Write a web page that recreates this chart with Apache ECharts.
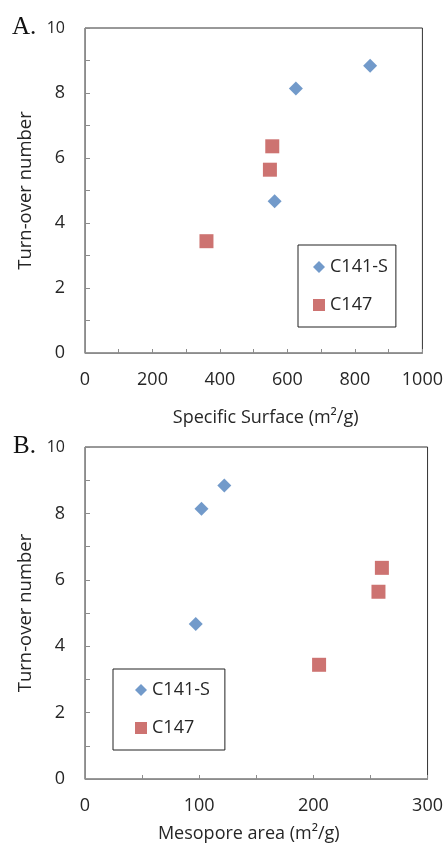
<!DOCTYPE html>
<html>
<head>
<meta charset="utf-8">
<script src="https://cdn.jsdelivr.net/npm/echarts@6/dist/echarts.min.js"></script>
<style>
html,body{margin:0;padding:0;background:#fff;}
#chart{width:446px;height:846px;}
</style>
</head>
<body>
<div id="chart"></div>
<script>
// Data
const seriesNames = ['C141-S', 'C147'];
const tonC141S = [8.84, 8.14, 4.67];
const tonC147 = [6.36, 5.64, 3.44];
const surfaceC141S = [845, 625, 562];
const surfaceC147 = [555, 548, 360];
const mesoC141S = [122, 102, 97];
const mesoC147 = [260, 257, 205];
const yTicks = [0, 2, 4, 6, 8, 10];
const xTicksA = [0, 200, 400, 600, 800, 1000];
const xTicksB = [0, 100, 200, 300];
const titleA = 'Specific Surface (m²/g)';
const titleB = 'Mesopore area (m²/g)';
const yTitle = 'Turn-over number';

const FONT = 'Open Sans';
const TXT = '#262626';
const AXIS = '#8c8c8c';
const BLUE = '#4f81bd';
const RED = '#c0504d';

function pairs(xs, ys) { return xs.map((x, i) => [x, ys[i]]); }

function yAxisCfg(gi) {
  return {
    type: 'value', gridIndex: gi, min: yTicks[0], max: yTicks[yTicks.length - 1],
    interval: yTicks[1] - yTicks[0],
    name: yTitle, nameLocation: 'middle', nameGap: 50,
    nameTextStyle: { fontFamily: FONT, fontSize: 18.5, color: TXT },
    axisLine: { show: true, lineStyle: { color: AXIS, width: 1 } },
    axisTick: { show: true, inside: true, length: 5, lineStyle: { color: AXIS } },
    minorTick: { show: true, splitNumber: 2, length: 5, lineStyle: { color: AXIS } },
    splitLine: { show: false },
    axisLabel: {
      margin: 20, fontFamily: FONT, fontSize: 18, color: TXT,
      formatter: v => v === 10 ? '{s|10}' : String(v),
      rich: { s: { fontFamily: FONT, fontSize: 16, lineHeight: 18, color: TXT } }
    }
  };
}

function xAxisCfg(gi, ticks, title, gap, pad) {
  return {
    type: 'value', gridIndex: gi, min: ticks[0], max: ticks[ticks.length - 1],
    interval: ticks[1] - ticks[0],
    name: title, nameLocation: 'middle', nameGap: gap,
    nameTextStyle: { fontFamily: FONT, fontSize: 18, color: TXT, padding: pad },
    axisLine: { show: true, lineStyle: { color: AXIS, width: 1 } },
    axisTick: { show: true, inside: true, length: 4, lineStyle: { color: AXIS } },
    minorTick: { show: true, splitNumber: 2, length: 4, lineStyle: { color: AXIS } },
    splitLine: { show: false },
    axisLabel: { margin: 18, fontFamily: FONT, fontSize: 18, color: TXT, formatter: v => String(v) }
  };
}

function legendCfg(left, top, padding) {
  return {
    orient: 'vertical', left: left, top: top,
    data: [{ name: seriesNames[0], icon: 'diamond' }, { name: seriesNames[1], icon: 'rect' }],
    itemWidth: 12, itemHeight: 12, itemGap: 18,
    padding: padding, borderColor: '#222', borderWidth: 1, backgroundColor: '#fff',
    textStyle: { fontFamily: FONT, fontSize: 18, color: TXT, lineHeight: 20 },
    selectedMode: false
  };
}

const chart = echarts.init(document.getElementById('chart'), null, { renderer: 'canvas' });
chart.setOption({
  animation: false,
  backgroundColor: '#fff',
  grid: [
    { left: 85, top: 28, right: 23, bottom: 493, show: true, borderColor: '#333', borderWidth: 1, backgroundColor: 'transparent' },
    { left: 85, top: 447, right: 18, bottom: 67, show: true, borderColor: '#333', borderWidth: 1, backgroundColor: 'transparent' }
  ],
  xAxis: [
    xAxisCfg(0, xTicksA, titleA, 56, [0, 0, 0, 24]),
    xAxisCfg(1, xTicksB, titleB, 46, [0, 15, 0, 0])
  ],
  yAxis: [yAxisCfg(0), yAxisCfg(1)],
  legend: [
    legendCfg(298, 245, [12, 8, 12, 15]),
    legendCfg(113, 669, [11, 15, 12, 22])
  ],
  graphic: [
    { type: 'text', left: 12, top: 15, style: { text: 'A.', font: '25px "Liberation Serif"', fill: '#111' } },
    { type: 'text', left: 13, top: 434, style: { text: 'B.', font: '25px "Liberation Serif"', fill: '#111' } }
  ],
  series: [
    { name: seriesNames[0], type: 'scatter', xAxisIndex: 0, yAxisIndex: 0, symbol: 'diamond', symbolSize: 14, itemStyle: { color: BLUE }, data: pairs(surfaceC141S, tonC141S) },
    { name: seriesNames[1], type: 'scatter', xAxisIndex: 0, yAxisIndex: 0, symbol: 'rect', symbolSize: 14, itemStyle: { color: RED }, data: pairs(surfaceC147, tonC147) },
    { name: seriesNames[0], type: 'scatter', xAxisIndex: 1, yAxisIndex: 1, symbol: 'diamond', symbolSize: 14, itemStyle: { color: BLUE }, data: pairs(mesoC141S, tonC141S) },
    { name: seriesNames[1], type: 'scatter', xAxisIndex: 1, yAxisIndex: 1, symbol: 'rect', symbolSize: 14, itemStyle: { color: RED }, data: pairs(mesoC147, tonC147) }
  ]
});
</script>
</body>
</html>
